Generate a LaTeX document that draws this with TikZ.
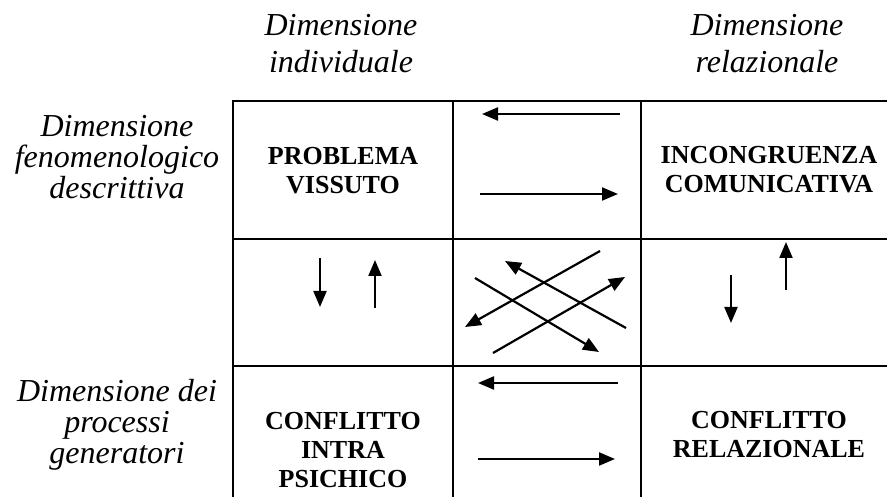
\documentclass[tikz,border=0pt]{standalone}
\usepackage{fontspec}
\setmainfont{Liberation Serif}
\usetikzlibrary{arrows.meta,positioning}
\tikzset{
    cell/.style={
           font=\bfseries\fontsize{26}{29}\selectfont,
           align=center,
           inner sep=0pt,
           anchor=base,
           },
    dim/.style={
           font=\itshape\fontsize{32}{31}\selectfont,
           align=center,
           inner sep=0pt,
           anchor=base,
           },
    rule/.style={
           line width=1.3pt,
           },
    arr/.style={
           line width=2.2pt,
           ->,
           },
}

\begin{document}
\begin{tikzpicture}[x=1pt,y=-1pt, >={Triangle[length=16pt,width=13pt]}]
   \useasboundingbox (0,0) rectangle (887,497);

   % table lines
   \draw[rule] (887,101) -- (233,101) -- (233,497);
   \draw[rule] (453,101) -- (453,497);
   \draw[rule] (641,101) -- (641,497);
   \draw[rule] (233,239) -- (887,239);
   \draw[rule] (233,366) -- (887,366);

   % headings (anchored on the last line)
   \node[dim, font=\itshape\fontsize{32}{37}\selectfont] (indiv) at (341,73) {Dimensione\\individuale};
   \node[dim, font=\itshape\fontsize{32}{37}\selectfont] (relaz) at (767,73) {Dimensione\\relazionale};
   \node[dim] (fenom) at (117,199) {Dimensione\\fenomenologico\\descrittiva};
   \node[dim] (proc) at (117,463) {Dimensione dei\\processi\\generatori};

   % cells
   \node[cell] (probl) at (343,194) {PROBLEMA\\VISSUTO};
   \node[cell] (incon) at (769,193) {INCONGRUENZA\\COMUNICATIVA};
   \node[cell] (intra) at (343,487) {CONFLITTO\\INTRA\\PSICHICO};
   \node[cell] (rel) at (769,457) {CONFLITTO\\RELAZIONALE};

   % arrow ends
   \coordinate (t1) at (620,114);  \coordinate (t2) at (482,114);
   \coordinate (t3) at (480,194);  \coordinate (t4) at (618,194);
   \coordinate (l1) at (320,258);  \coordinate (l2) at (320,307);
   \coordinate (l3) at (375,308);  \coordinate (l4) at (375,260);
   \coordinate (x1) at (600,251);  \coordinate (x2) at (465,327);
   \coordinate (x3) at (626,328);  \coordinate (x4) at (505,261);
   \coordinate (x5) at (475,278);  \coordinate (x6) at (599,352);
   \coordinate (x7) at (493,353);  \coordinate (x8) at (625,277);
   \coordinate (r1) at (786,290);  \coordinate (r2) at (786,242);
   \coordinate (r3) at (731,275);  \coordinate (r4) at (731,323);
   \coordinate (b1) at (618,383);  \coordinate (b2) at (478,383);
   \coordinate (b3) at (478,459);  \coordinate (b4) at (615,459);

   \draw[arr] (t1) -- (t2);
   \draw[arr] (t3) -- (t4);
   \draw[arr] (l1) -- (l2);
   \draw[arr] (l3) -- (l4);
   \draw[arr] (x1) -- (x2);
   \draw[arr] (x3) -- (x4);
   \draw[arr] (x5) -- (x6);
   \draw[arr] (x7) -- (x8);
   \draw[arr] (r1) -- (r2);
   \draw[arr] (r3) -- (r4);
   \draw[arr] (b1) -- (b2);
   \draw[arr] (b3) -- (b4);
\end{tikzpicture}
\end{document}
